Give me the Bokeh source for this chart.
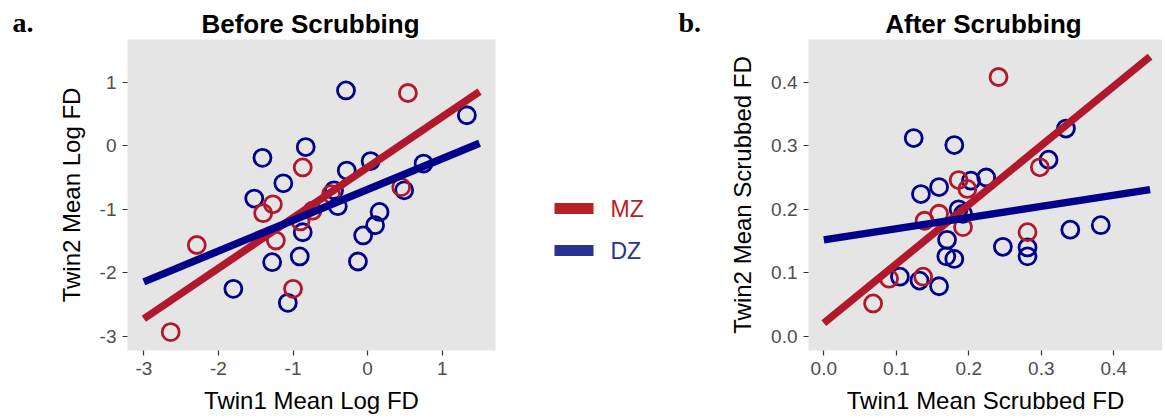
from bokeh.plotting import figure
from bokeh.layouts import row, column
from bokeh.models import Range1d, FixedTicker, NumeralTickFormatter
from bokeh.core.properties import value
from bokeh.embed import file_html
from bokeh.resources import INLINE

# ---------------- data ----------------
# Panel a: Before Scrubbing (log mean FD)
a_mz_x = [0.54, -0.87, 0.45, -0.49, -1.27, -1.40, -0.74, -0.90, -1.23, -2.29, -1.00, -2.64]
a_mz_y = [0.83, -0.34, -0.65, -0.76, -0.92, -1.06, -1.02, -1.19, -1.49, -1.56, -2.25, -2.93]
a_dz_x = [-0.29, 1.33, -0.83, -1.41, -0.28, 0.04, 0.75, -1.13, -1.52, -0.45, -0.40,
          0.49, 0.16, 0.10, -0.06, -0.87, -0.91, -1.28, -0.13, -1.80, -1.07]
a_dz_y = [0.87, 0.48, -0.02, -0.19, -0.39, -0.24, -0.28, -0.59, -0.83, -0.70, -0.95,
          -0.70, -1.04, -1.25, -1.41, -1.36, -1.74, -1.83, -1.82, -2.25, -2.47]
a_fit_x = [-3.0, 1.5]
a_mz_fit_y = [-2.72, 0.85]
a_dz_fit_y = [-2.14, 0.04]

# Panel b: After Scrubbing (mean scrubbed FD)
b_mz_x = [0.241, 0.298, 0.186, 0.198, 0.139, 0.159, 0.192, 0.281, 0.090, 0.137, 0.068]
b_mz_y = [0.408, 0.266, 0.246, 0.232, 0.182, 0.193, 0.172, 0.164, 0.091, 0.094, 0.052]
b_dz_x = [0.334, 0.310, 0.124, 0.180, 0.203, 0.224, 0.134, 0.159, 0.186, 0.192, 0.170,
          0.169, 0.180, 0.247, 0.281, 0.281, 0.340, 0.382, 0.105, 0.132, 0.159]
b_dz_y = [0.327, 0.278, 0.312, 0.301, 0.245, 0.250, 0.224, 0.235, 0.200, 0.193, 0.152,
          0.126, 0.122, 0.141, 0.140, 0.126, 0.168, 0.175, 0.094, 0.088, 0.079]
b_fit_x = [0.0, 0.45]
b_mz_fit_y = [0.021, 0.440]
b_dz_fit_y = [0.152, 0.231]

a_xticks = [-3, -2, -1, 0, 1]
a_yticks = [-3, -2, -1, 0, 1]
b_ticks = [0.0, 0.1, 0.2, 0.3, 0.4]

panel_tags = ["a.", "b."]
panel_titles = ["Before Scrubbing", "After Scrubbing"]
legend_labels = ["MZ", "DZ"]

# ---------------- style ----------------
RED = "#B2182B"
BLUE = "#00008B"
RED_KEY = "#B82025"
BLUE_KEY = "#2A3192"
BG = "#E5E5E5"
FONT = "Liberation Sans"

STRIP_H = 39          # title strip height (px)
FRAME_TOP = STRIP_H   # frame top in page pixels
FRAME_BOTTOM = 350
FRAME_H = FRAME_BOTTOM - FRAME_TOP
BOTTOM = 64
TOTAL_W = 1162


def blank(fw, fh, xr, yr, bottom=0):
    p = figure(frame_width=fw, frame_height=fh, title=None,
               min_border_left=0, min_border_right=0, min_border_top=0,
               min_border_bottom=bottom,
               x_range=Range1d(*xr), y_range=Range1d(*yr),
               x_axis_location=None, y_axis_location=None,
               output_backend="svg", toolbar_location=None)
    p.grid.visible = False
    p.outline_line_color = None
    p.background_fill_color = "white"
    p.border_fill_color = "white"
    return p


def style(p):
    p.background_fill_color = BG
    p.border_fill_color = "white"
    p.outline_line_color = None
    p.xgrid.visible = False
    p.ygrid.visible = False
    for ax in (p.xaxis[0], p.yaxis[0]):
        ax.axis_line_color = None
        ax.major_tick_line_color = "#333333"
        ax.major_tick_line_width = 1.2
        ax.major_tick_out = 5
        ax.major_tick_in = 0
        ax.minor_tick_line_color = None
        ax.major_label_text_font = FONT
        ax.major_label_text_font_size = "19px"
        ax.major_label_text_color = "#4D4D4D"
        ax.major_label_standoff = 6
        ax.axis_label_text_font = FONT
        ax.axis_label_text_font_size = "24px"
        ax.axis_label_text_font_style = "normal"
        ax.axis_label_text_color = "black"
    p.xaxis[0].axis_label_standoff = 9
    p.yaxis[0].axis_label_standoff = 12


def panel(xr, yr, frame_w, bl, br, xl, yl):
    p = figure(frame_width=frame_w, frame_height=FRAME_H, title=None,
               min_border_left=bl, min_border_right=br,
               min_border_top=0, min_border_bottom=BOTTOM,
               x_range=Range1d(*xr), y_range=Range1d(*yr),
               output_backend="svg", toolbar_location=None,
               x_axis_label=xl, y_axis_label=yl)
    style(p)
    return p


def add_marks(p, mzx, mzy, dzx, dzy, fx, fmz, fdz):
    p.scatter(dzx, dzy, marker="circle", size=17, fill_color=None,
              line_color=BLUE, line_width=2.8)
    p.scatter(mzx, mzy, marker="circle", size=17, fill_color=None,
              line_color=RED, line_width=2.8)
    p.line(fx, fmz, line_color=RED, line_width=7.5)
    p.line(fx, fdz, line_color=BLUE, line_width=7.5)


# ---------------- title strip (coordinates = page pixels) ----------------
ps = blank(TOTAL_W, STRIP_H, (0, TOTAL_W), (STRIP_H, 0))
ps.text(x=[12, 678], y=[22, 22], text=panel_tags, text_font=value("Liberation Serif"),
        text_font_style="bold", text_font_size="28px", text_color="black",
        text_align="left", text_baseline="middle")
ps.text(x=[310, 983], y=[23, 23], text=panel_titles, text_font=value(FONT),
        text_font_style="bold", text_font_size="26px", text_color="black",
        text_align="center", text_baseline="middle")

# ---------------- panel a ----------------
a_sx, a_sy = 74.6, 63.6           # px per data unit
a_x0 = -3.219
a_y0 = -3.219                     # data value at frame bottom
a_frame_w = 368
a_xr = (a_x0, a_x0 + a_frame_w / a_sx)
a_yr = (a_y0, a_y0 + FRAME_H / a_sy)

pa = panel(a_xr, a_yr, a_frame_w, 127, 25, "Twin1 Mean Log FD", "Twin2 Mean Log FD")
pa.xaxis.ticker = FixedTicker(ticks=a_xticks)
pa.yaxis.ticker = FixedTicker(ticks=a_yticks)
pa.xaxis.major_label_overrides = {t: str(t) for t in a_xticks}
pa.yaxis.major_label_overrides = {t: str(t) for t in a_yticks}
add_marks(pa, a_mz_x, a_mz_y, a_dz_x, a_dz_y, a_fit_x, a_mz_fit_y, a_dz_fit_y)

# ---------------- legend (coordinates = page pixels) ----------------
pl = blank(180, FRAME_H, (520, 700), (FRAME_BOTTOM, FRAME_TOP), bottom=BOTTOM)
key_y = [208, 250]
key_cols = [RED_KEY, BLUE_KEY]
for ky, kc, lab in zip(key_y, key_cols, legend_labels):
    pl.line([554, 593], [ky, ky], line_color=kc, line_width=11)
    pl.text(x=[610], y=[ky], text=[lab], text_font=value(FONT), text_font_size="23px",
            text_color=kc, text_align="left", text_baseline="middle")

# ---------------- panel b ----------------
b_sx, b_sy = 725.0, 636.0
b_x0 = -0.0211
b_y0 = -0.0220
b_frame_w = 354
b_xr = (b_x0, b_x0 + b_frame_w / b_sx)
b_yr = (b_y0, b_y0 + FRAME_H / b_sy)

pb = panel(b_xr, b_yr, b_frame_w, 108, 0, "Twin1 Mean Scrubbed FD", "Twin2 Mean Scrubbed FD")
pb.xaxis.ticker = FixedTicker(ticks=b_ticks)
pb.yaxis.ticker = FixedTicker(ticks=b_ticks)
pb.xaxis.formatter = NumeralTickFormatter(format="0.0")
pb.yaxis.formatter = NumeralTickFormatter(format="0.0")
add_marks(pb, b_mz_x, b_mz_y, b_dz_x, b_dz_y, b_fit_x, b_mz_fit_y, b_dz_fit_y)

layout = column(ps, row(pa, pl, pb))
open("out.html", "w").write(file_html(layout, INLINE))
